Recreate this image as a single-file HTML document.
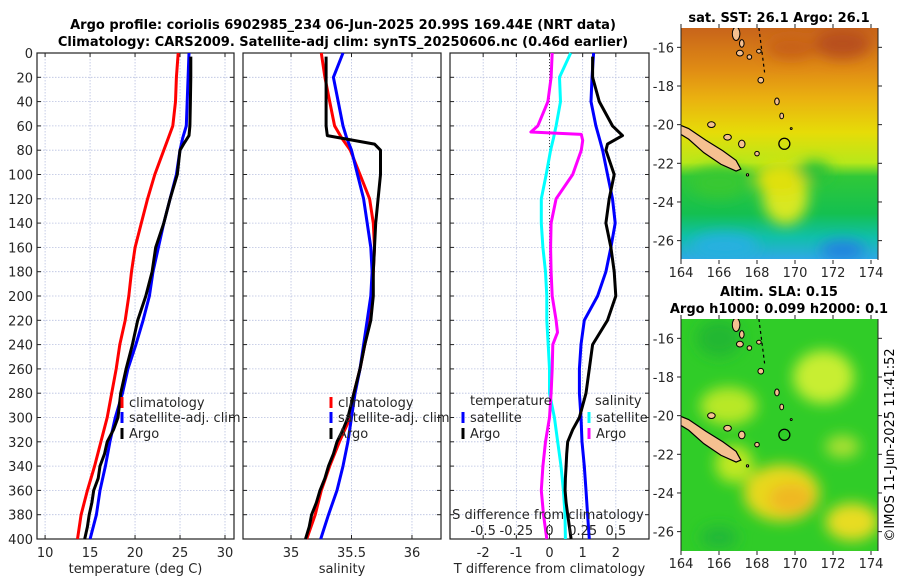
<!DOCTYPE html>
<html><head><meta charset="utf-8"><style>
body{margin:0;background:#fff;}
svg{display:block;font-family:"DejaVu Sans","Liberation Sans",sans-serif;}
</style></head><body>
<svg id="fig" width="900" height="580" viewBox="0 0 900 580" xmlns="http://www.w3.org/2000/svg">
<defs>
<linearGradient id="sstGrad" x1="0" y1="0" x2="0" y2="1">
<stop offset="0" stop-color="#c8641a"/><stop offset="0.18" stop-color="#e08c14"/><stop offset="0.3" stop-color="#eab010"/>
<stop offset="0.45" stop-color="#e6dc08"/><stop offset="0.58" stop-color="#b8e81a"/><stop offset="0.64" stop-color="#30c838"/>
<stop offset="0.8" stop-color="#14c050"/><stop offset="0.9" stop-color="#10c0a8"/><stop offset="1" stop-color="#30a8e8"/>
</linearGradient>
<filter id="blur6"><feGaussianBlur stdDeviation="7"/></filter>
<clipPath id="clipTop"><rect x="681" y="28" width="197" height="231"/></clipPath>
<clipPath id="clipBot"><rect x="681" y="319" width="197" height="232"/></clipPath>
</defs>
<g id="titles">
<text x="343" y="29" font-size="13" font-weight="bold" text-anchor="middle">Argo profile: coriolis 6902985_234 06-Jun-2025 20.99S 169.44E (NRT data)</text>
<text x="343" y="46" font-size="13" font-weight="bold" text-anchor="middle">Climatology: CARS2009. Satellite-adj clim: synTS_20250606.nc (0.46d earlier)</text>
</g>
<g id="panels"></g>
<g id="maps"></g>
<text transform="translate(894,445) rotate(-90)" font-size="13" text-anchor="middle">©IMOS 11-Jun-2025 11:41:52</text>
</svg>
<script>
// ---- data (depth in m) ----
const depths = [0,20,40,60,70,80,100,120,140,160,180,200,220,240,260,280,300,320,340,360,380,400];
const tempClim = [24.8,24.6,24.5,24.2,23.7,23.2,22.2,21.4,20.7,20.0,19.6,19.3,18.9,18.3,17.9,17.4,16.9,16.2,15.5,14.7,14.0,13.6];
const tempSat  = [26.0,25.9,25.8,25.7,25.3,25.0,24.6,23.9,23.2,22.6,22.0,21.6,20.9,20.1,19.2,18.6,17.8,17.2,16.7,16.1,15.7,15.0];
const argoDepths = [3,20,40,60,68,75,80,100,120,140,160,180,200,220,240,260,280,300,310,320,330,340,350,360,370,380,390,400];
const tempArgo = [26.2,26.2,26.15,26.1,26.0,25.4,25.0,24.7,23.9,23.2,22.3,21.9,21.2,20.3,19.7,19.0,18.4,18.1,17.6,16.9,16.6,16.1,15.9,15.4,15.2,14.9,14.7,14.4];
const salClim = [35.25,35.28,35.32,35.36,35.42,35.49,35.57,35.65,35.68,35.69,35.68,35.67,35.65,35.61,35.57,35.52,35.49,35.40,35.32,35.25,35.20,35.13];
const salSat  = [35.43,35.35,35.39,35.43,35.46,35.50,35.55,35.60,35.63,35.66,35.67,35.66,35.63,35.60,35.57,35.53,35.50,35.47,35.43,35.38,35.31,35.245];
const salArgo = [35.29,35.29,35.29,35.29,35.30,35.69,35.74,35.74,35.72,35.70,35.69,35.68,35.68,35.66,35.61,35.57,35.52,35.47,35.43,35.38,35.35,35.31,35.28,35.24,35.21,35.17,35.15,35.12];
const dTsat  = [1.33,1.28,1.25,1.4,1.5,1.6,1.75,1.9,1.98,1.85,1.7,1.45,1.05,0.95,0.9,0.9,0.95,0.98,1.05,1.1,1.15,1.2];
const dTargo = [1.3,1.3,1.5,1.9,2.2,1.75,1.7,1.95,1.8,1.7,1.85,1.95,2.0,1.75,1.3,1.2,1.1,0.9,0.7,0.55,0.52,0.5,0.48,0.47,0.5,0.55,0.6,0.65];
const dSsat  = [0.16,0.075,0.083,0.05,0.03,0.008,-0.025,-0.062,-0.062,-0.05,-0.03,-0.02,-0.02,-0.01,0.0,0.0,0.037,0.062,0.087,0.105,0.117,0.12];
const dSargoDepths = [0,20,40,60,65,67,72,80,100,120,140,160,180,200,220,230,240,260,280,300,320,340,360,380,400];
const dSargo = [0.02,0.012,-0.012,-0.088,-0.14,0.24,0.25,0.24,0.175,0.05,0.012,0.008,0.012,0.02,0.05,0.06,0.025,0.02,0.012,0.0,-0.03,-0.05,-0.062,-0.045,-0.02];
const depthTicks = [0,20,40,60,80,100,120,140,160,180,200,220,240,260,280,300,320,340,360,380,400];
const tempTicks = [10,15,20,25,30];
const salTicks = [35,35.5,36];
const dTTicks = [-2,-1,0,1,2];
const dSTicks = [-0.5,-0.25,0,0.25,0.5];

const NS='http://www.w3.org/2000/svg';
function el(tag, attrs, parent, txt){const e=document.createElementNS(NS,tag);for(const k in attrs)e.setAttribute(k,attrs[k]);if(txt!==undefined)e.textContent=txt;parent.appendChild(e);return e;}
const Y0=53, Y1=539;
const yScale = d => Y0 + d/400*(Y1-Y0);
const panelsG=document.getElementById('panels');

function makePanel(name,x0,x1,vmin,vmax,ticks,fmt,xlabel,showY){
  const g=el('g',{},panelsG);
  
  
  const xs=v=>x0+(v-vmin)/(vmax-vmin)*(x1-x0);
  ticks.forEach(t=>{el('line',{x1:xs(t),x2:xs(t),y1:Y0,y2:Y1,stroke:'#b8c0e0','stroke-width':0.8,'stroke-dasharray':'1.5,1.5'},g);});
  depthTicks.forEach(d=>{
    el('line',{x1:x0,x2:x1,y1:yScale(d),y2:yScale(d),stroke:'#b8c0e0','stroke-width':0.8,'stroke-dasharray':'1.5,1.5'},g);
    el('line',{x1:x0,x2:x0+4,y1:yScale(d),y2:yScale(d),stroke:'#222','stroke-width':1},g);
    el('line',{x1:x1-4,x2:x1,y1:yScale(d),y2:yScale(d),stroke:'#222','stroke-width':1},g);
    if(showY){const t=el('text',{x:x0-4,y:yScale(d)+5,'font-size':13,'text-anchor':'end',fill:'#262626'},g,String(d));
      }
  });
  ticks.forEach(t=>{
    el('line',{x1:xs(t),x2:xs(t),y1:Y1,y2:Y1-4,stroke:'#222'},g);
    el('line',{x1:xs(t),x2:xs(t),y1:Y0,y2:Y0+4,stroke:'#222'},g);
    const tx=el('text',{x:xs(t),y:557,'font-size':13,'text-anchor':'middle',fill:'#262626'},g,fmt(t));
    
  });
  el('rect',{x:x0,y:Y0,width:x1-x0,height:Y1-Y0,fill:'none',stroke:'#222','stroke-width':1.2},g);
  const xl=el('text',{x:(x0+x1)/2,y:573,'font-size':13,'text-anchor':'middle',fill:'#262626'},g,xlabel);
  
  return {g,xs};
}
function series(p,vals,ds,color,name,scale){
  const pts=vals.map((v,i)=>(p.xs(v*(scale||1))).toFixed(1)+','+yScale(ds[i]).toFixed(1)).join(' ');
  const l=el('polyline',{points:pts,fill:'none',stroke:color,'stroke-width':3,'stroke-linejoin':'round'},p.g);
  
}
function legend(p,x,y,color,label,name){
  el('line',{x1:x,x2:x,y1:y-10,y2:y+1,stroke:color,'stroke-width':3},p.g);
  const t=el('text',{x:x+7,y:y,'font-size':13,fill:'#262626'},p.g,label);
  
}
// Panel 1
const p1=makePanel('temperature-panel',37,234,9.1,31,tempTicks,String,'temperature (deg C)',true);
series(p1,tempClim,depths,'#ff0000','temp-climatology-line');
series(p1,tempSat,depths,'#0000ff','temp-satellite-line');
series(p1,tempArgo,argoDepths,'#000000','temp-argo-line');
legend(p1,122,407,'#ff0000','climatology','legend-climatology');
legend(p1,122,422,'#0000ff','satellite-adj. clim','legend-satellite');
legend(p1,122,438,'#000000','Argo','legend-argo');
// Panel 2
const p2=makePanel('salinity-panel',243,441,34.603,36.24,salTicks,String,'salinity',false);
series(p2,salClim,depths,'#ff0000','sal-climatology-line');
series(p2,salSat,depths,'#0000ff','sal-satellite-line');
series(p2,salArgo,argoDepths,'#000000','sal-argo-line');
legend(p2,331,407,'#ff0000','climatology','legend-climatology');
legend(p2,331,422,'#0000ff','satellite-adj. clim','legend-satellite');
legend(p2,331,438,'#000000','Argo','legend-argo');
// Panel 3
const p3=makePanel('difference-panel',450,649,-3,3,dTTicks,String,'T difference from climatology',false);
el('line',{x1:p3.xs(0),x2:p3.xs(0),y1:Y0,y2:Y1,stroke:'#444','stroke-dasharray':'1,2','stroke-width':1},p3.g);
series(p3,dSsat,depths,'#00ffff','dS-satellite-line',4);
series(p3,dSargo,dSargoDepths,'#ff00ff','dS-argo-line',4);
series(p3,dTsat,depths,'#0000ff','dT-satellite-line');
series(p3,dTargo,argoDepths,'#000000','dT-argo-line');
{const t=el('text',{x:470,y:405,'font-size':13,fill:'#262626'},p3.g,'temperature');}
{const t=el('text',{x:595,y:405,'font-size':13,fill:'#262626'},p3.g,'salinity');}
legend(p3,463,422,'#0000ff','satellite','legend-t-satellite');
legend(p3,463,438,'#000000','Argo','legend-t-argo');
legend(p3,589,422,'#00ffff','satellite','legend-s-satellite');
legend(p3,589,438,'#ff00ff','Argo','legend-s-argo');
{const t=el('text',{x:548,y:519,'font-size':13,'text-anchor':'middle',fill:'#262626'},p3.g,'S difference from climatology');}
dSTicks.forEach(s=>{const t=el('text',{x:p3.xs(s*4),y:535,'font-size':13,'text-anchor':'middle',fill:'#262626'},p3.g,String(s));
  });

// ---- maps ----
const lonTicks=[164,166,168,170,172,174];
const latTicks=[-16,-18,-20,-22,-24,-26];
const mapsG=document.getElementById('maps');
function makeMap(name,top,clip,bg,blobs){
  const g=el('g',{},mapsG);
  
  
  const X=lon=>681+(lon-164)*19, Y=lat=>top+(-15-lat)*19.33;
  const inner=el('g',{'clip-path':'url(#'+clip+')'},g);
  el('rect',{x:681,y:top,width:197,height:232,fill:bg},inner);
  const bl=el('g',{filter:'url(#blur6)'},inner);
  blobs.forEach(b=>el('ellipse',{cx:X(b[0]),cy:Y(b[1]),rx:b[2]*19,ry:b[3]*19,fill:b[4]},bl));
  const nc=[[163.9,-20.0],[164.4,-20.2],[165.3,-20.8],[166.2,-21.35],[166.9,-21.85],[167.15,-22.3],[166.9,-22.4],[166.1,-22.05],[165.2,-21.45],[164.4,-20.75],[163.9,-20.45]];
  const isl=el('polygon',{points:nc.map(p=>X(p[0])+','+Y(p[1])).join(' '),fill:'#f5c090',stroke:'#000','stroke-width':1.2},inner);
  
  const small=[[166.9,-15.3,0.2,0.35],[167.2,-15.8,0.12,0.2],[167.1,-16.3,0.18,0.15],[167.6,-16.5,0.12,0.12],[168.1,-16.2,0.12,0.1],[168.2,-17.7,0.15,0.15],[169.05,-18.8,0.12,0.18],[169.3,-19.55,0.1,0.15],[165.6,-20.0,0.2,0.15],[166.45,-20.65,0.2,0.15],[167.2,-21.0,0.17,0.2],[168.0,-21.5,0.12,0.12],[167.5,-22.6,0.06,0.06],[169.8,-20.2,0.05,0.05]];
  small.forEach(s=>el('ellipse',{cx:X(s[0]),cy:Y(s[1]),rx:s[2]*19,ry:s[3]*19,fill:'#f5c090',stroke:'#000','stroke-width':1},inner));
  el('line',{x1:X(168.1),y1:Y(-15),x2:X(168.4),y2:Y(-17.3),stroke:'#000','stroke-width':1.2,'stroke-dasharray':'3,3'},inner);
  const c=el('circle',{cx:X(169.44),cy:Y(-20.99),r:5.5,fill:'none',stroke:'#000','stroke-width':1.3},g);
  
  lonTicks.forEach(l=>{el('line',{x1:X(l),x2:X(l),y1:top+232,y2:top+236,stroke:'#222'},g);el('line',{x1:X(l),x2:X(l),y1:top,y2:top-4,stroke:'#222'},g);
    const t=el('text',{x:X(l),y:top+249,'font-size':13,'text-anchor':'middle',fill:'#262626'},g,String(l));});
  latTicks.forEach(l=>{el('line',{x1:681,x2:677,y1:Y(l),y2:Y(l),stroke:'#222'},g);el('line',{x1:878,x2:882,y1:Y(l),y2:Y(l),stroke:'#222'},g);
    const t=el('text',{x:674,y:Y(l)+5,'font-size':13,'text-anchor':'end',fill:'#262626'},g,String(l));});
  el('line',{x1:681,x2:681,y1:top,y2:top+232,stroke:'#222'},g);
  el('line',{x1:878,x2:878,y1:top,y2:top+232,stroke:'#222'},g);
}
makeMap('sst-map',28,'clipTop','url(#sstGrad)',[
 [169.5,-23.7,1.2,1.5,'#d8e820'],[169.3,-22.8,1.4,0.9,'#e0e010'],[172.5,-15.8,1.5,0.8,'#b8501a'],[169.8,-16,1.3,0.6,'#c86018'],
 [172.5,-26.5,1.2,0.5,'#2080e0'],[166.3,-26.3,1.8,0.7,'#28b0e0'],[166,-23,1.5,0.8,'#38c830'],[171,-22.4,0.9,0.5,'#28c038']]);
makeMap('sla-map',319,'clipBot','#30cc28',[
 [171.5,-18,1.6,1.4,'#c8ee30'],[166.5,-19.5,1.5,1.0,'#b8e828'],[169.3,-24,2.0,1.5,'#e8d81a'],[169.8,-24.3,1.2,0.8,'#f0b820'],
 [173,-25.5,1.4,1.0,'#e8dc20'],[166.8,-22.5,1.0,1.0,'#c0e820'],[172.5,-21.6,0.9,0.6,'#a8e030'],[166,-16,1.2,1.0,'#20b830'],[166,-26.3,1.0,0.6,'#20b838']]);
function mapTitle(x,y,txt,name){const t=el('text',{x:x,y:y,'font-size':13,'font-weight':'bold','text-anchor':'middle'},mapsG,txt);}
mapTitle(779,22,'sat. SST: 26.1 Argo: 26.1','sst-map-title');
mapTitle(779,296,'Altim. SLA: 0.15','sla-map-title-1');
mapTitle(779,313,'Argo h1000: 0.099 h2000: 0.1','sla-map-title-2');
</script>
</body></html>
